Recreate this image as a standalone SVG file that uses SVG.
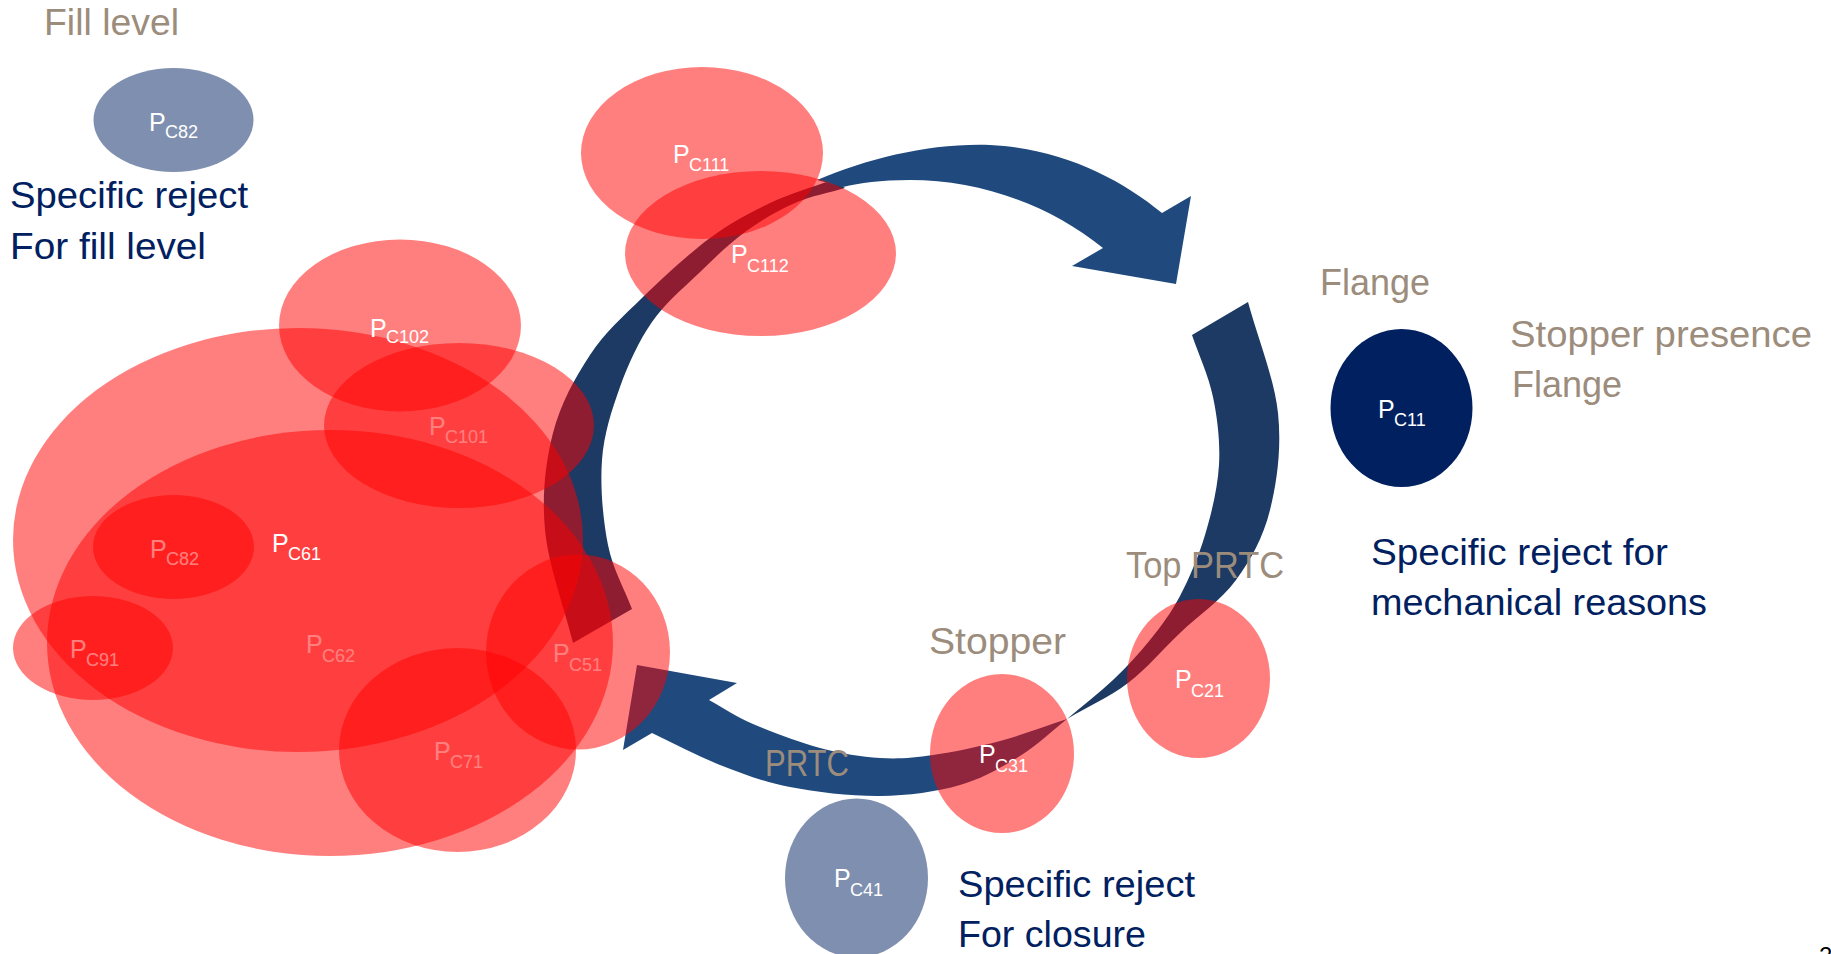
<svg xmlns="http://www.w3.org/2000/svg" width="1831" height="954" viewBox="0 0 1831 954">
<style>
.t{font-family:'Liberation Sans',Arial,sans-serif;font-size:37px}
.taupe{fill:#9C8C7C}
.navy{fill:#002060}
.red{fill:#FF0000;fill-opacity:0.5}
.grey{fill:#002060;fill-opacity:0.5}
.solid{fill:#002060}
.lbl{font-family:'Liberation Sans',Arial,sans-serif;fill:#FFFFFF}
.lp{font-size:25px}
.ls{font-size:18px}
.arc{fill:#1C3A63}
.arr{fill:#204A7D}
</style>
<rect width="1831" height="954" fill="#FFFFFF"/>
<g id="connectors">
<path class="arc" d="M573,643 C563.7,605.3 548.3,565 545,530 C541.7,495 545.5,462.2 553,433 C560.5,403.8 575,377.7 590,355 C605,332.3 623,316.5 643,297 C663,277.5 688.8,253.7 710,238 C731.2,222.3 749.7,212.7 770,203 C790.3,193.3 811.3,187.7 832,180 L845,188 C828.3,193 811.7,195.7 795,203 C778.3,210.3 761.2,220.2 745,232 C728.8,243.8 713.5,259 698,274 C682.5,289 665,303.2 652,322 C639,340.8 628.3,364 620,387 C611.7,410 604,433.7 602,460 C600,486.3 603,520.2 608,545 C613,569.8 624,587.7 632,609 Z"/>
<path class="arr" d="M817,180 C870,158 930,143 990,145 C1060,148 1120,178 1162,213 L1191,196 L1176,284 L1072,266 L1103,248 C1050,205 980,180 910,180 C880,180 860,183 843,187 Z"/>
<path class="arc" d="M1192,335 L1248,302 C1258,339 1274.3,378.3 1278,413 C1281.7,447.7 1277,482.2 1270,510 C1263,537.8 1251,559.5 1236,580 C1221,600.5 1198,615.8 1180,633 C1162,650.2 1146.8,668.7 1128,683 C1109.2,697.3 1087.3,707 1067,719 C1082.3,706 1099.2,693.2 1113,680 C1126.8,666.8 1138.8,654 1150,640 C1161.2,626 1170.8,613.5 1180,596 C1189.2,578.5 1198.5,556.8 1205,535 C1211.5,513.2 1217.7,488 1219,465 C1220.3,442 1217.5,418.7 1213,397 C1208.5,375.3 1199,355.7 1192,335 Z"/>
<path class="arr" d="M1067,719 C1044.7,726.3 1022.3,735 1000,741 C977.7,747 953,752.2 933,755 C913,757.8 898.8,759.2 880,758 C861.2,756.8 841.2,753.7 820,748 C798.8,742.3 771.5,732 753,724 C734.5,716 723.7,708 709,700 L737,683 L637,665 L623,750 L652,733 C674.7,743.7 697,756 720,765 C743,774 763.3,781.8 790,787 C816.7,792.2 851.7,796.3 880,796 C908.3,795.7 936.7,791.7 960,785 C983.3,778.3 1002.2,767 1020,756 C1037.8,745 1051.3,731.3 1067,719 Z"/>
</g>
<g id="pc71"><ellipse class="red" cx="457.5" cy="750" rx="118.5" ry="102"/><text class="lbl"><tspan class="lp" x="434" y="760">P</tspan><tspan class="ls" x="450" y="768">C71</tspan></text></g>
<g id="pc51"><ellipse class="red" cx="578" cy="652" rx="92" ry="97.5"/><text class="lbl"><tspan class="lp" x="553" y="662">P</tspan><tspan class="ls" x="569" y="671">C51</tspan></text></g>
<g id="pc62"><ellipse class="red" cx="330" cy="643" rx="283" ry="213"/><text class="lbl"><tspan class="lp" x="306" y="653">P</tspan><tspan class="ls" x="322" y="662">C62</tspan></text></g>
<g id="pc91"><ellipse class="red" cx="93" cy="648" rx="80" ry="52"/><text class="lbl"><tspan class="lp" x="70" y="658">P</tspan><tspan class="ls" x="86" y="666">C91</tspan></text></g>
<g id="pc82b"><ellipse class="red" cx="173.5" cy="547" rx="80.5" ry="52"/><text class="lbl"><tspan class="lp" x="150" y="558">P</tspan><tspan class="ls" x="166" y="565">C82</tspan></text></g>
<g id="pc101"><ellipse class="red" cx="459" cy="425.5" rx="135" ry="82.5"/><text class="lbl"><tspan class="lp" x="429" y="435">P</tspan><tspan class="ls" x="445" y="443">C101</tspan></text></g>
<g id="pc61"><ellipse class="red" cx="298" cy="540" rx="285" ry="212"/><text class="lbl"><tspan class="lp" x="272" y="552">P</tspan><tspan class="ls" x="288" y="560">C61</tspan></text></g>
<g id="pc102"><ellipse class="red" cx="400" cy="325.5" rx="121" ry="86"/><text class="lbl"><tspan class="lp" x="370" y="337">P</tspan><tspan class="ls" x="386" y="343">C102</tspan></text></g>
<g id="pc111"><ellipse class="red" cx="702" cy="153" rx="121" ry="86"/><text class="lbl"><tspan class="lp" x="673" y="163">P</tspan><tspan class="ls" x="689" y="171">C111</tspan></text></g>
<g id="pc112"><ellipse class="red" cx="760.5" cy="253.5" rx="135.5" ry="82.5"/><text class="lbl"><tspan class="lp" x="731" y="263">P</tspan><tspan class="ls" x="747" y="272">C112</tspan></text></g>
<g id="pc31"><ellipse class="red" cx="1002" cy="753.5" rx="72" ry="79.5"/><text class="lbl"><tspan class="lp" x="979" y="763">P</tspan><tspan class="ls" x="995" y="772">C31</tspan></text></g>
<g id="pc21"><ellipse class="red" cx="1198.5" cy="678.5" rx="71.5" ry="79.5"/><text class="lbl"><tspan class="lp" x="1175" y="688">P</tspan><tspan class="ls" x="1191" y="697">C21</tspan></text></g>
<g id="pc82a"><ellipse class="grey" cx="173.5" cy="120" rx="80" ry="52"/><text class="lbl"><tspan class="lp" x="149" y="131">P</tspan><tspan class="ls" x="165" y="138">C82</tspan></text></g>
<g id="pc41"><ellipse class="grey" cx="856.5" cy="878" rx="71.5" ry="79.5"/><text class="lbl"><tspan class="lp" x="834" y="887">P</tspan><tspan class="ls" x="850" y="896">C41</tspan></text></g>
<g id="pc11"><ellipse class="solid" cx="1401.5" cy="408" rx="71" ry="79"/><text class="lbl"><tspan class="lp" x="1378" y="418">P</tspan><tspan class="ls" x="1394" y="426">C11</tspan></text></g>
<g id="labels">
<text class="t taupe" x="44" y="35" textLength="135" lengthAdjust="spacingAndGlyphs">Fill level</text>
<text class="t navy" x="10" y="208" textLength="238" lengthAdjust="spacingAndGlyphs">Specific reject</text>
<text class="t navy" x="10" y="259" textLength="196" lengthAdjust="spacingAndGlyphs">For fill level</text>
<text class="t taupe" x="1320" y="295" textLength="110" lengthAdjust="spacingAndGlyphs">Flange</text>
<text class="t taupe" x="1510" y="347" textLength="302" lengthAdjust="spacingAndGlyphs">Stopper presence</text>
<text class="t taupe" x="1512" y="397" textLength="110" lengthAdjust="spacingAndGlyphs">Flange</text>
<text class="t navy" x="1371" y="565" textLength="297" lengthAdjust="spacingAndGlyphs">Specific reject for</text>
<text class="t navy" x="1371" y="615" textLength="336" lengthAdjust="spacingAndGlyphs">mechanical reasons</text>
<text class="t taupe" x="1126" y="578" textLength="158" lengthAdjust="spacingAndGlyphs">Top PRTC</text>
<text class="t taupe" x="929" y="654" textLength="137" lengthAdjust="spacingAndGlyphs">Stopper</text>
<text class="t taupe" x="765" y="776" textLength="84" lengthAdjust="spacingAndGlyphs">PRTC</text>
<text class="t navy" x="958" y="897" textLength="237" lengthAdjust="spacingAndGlyphs">Specific reject</text>
<text class="t navy" x="958" y="947" textLength="188" lengthAdjust="spacingAndGlyphs">For closure</text>
<text x="1819" y="964" font-family="'Liberation Sans',Arial,sans-serif" font-size="24" fill="#000000">2</text>
</g>
</svg>
